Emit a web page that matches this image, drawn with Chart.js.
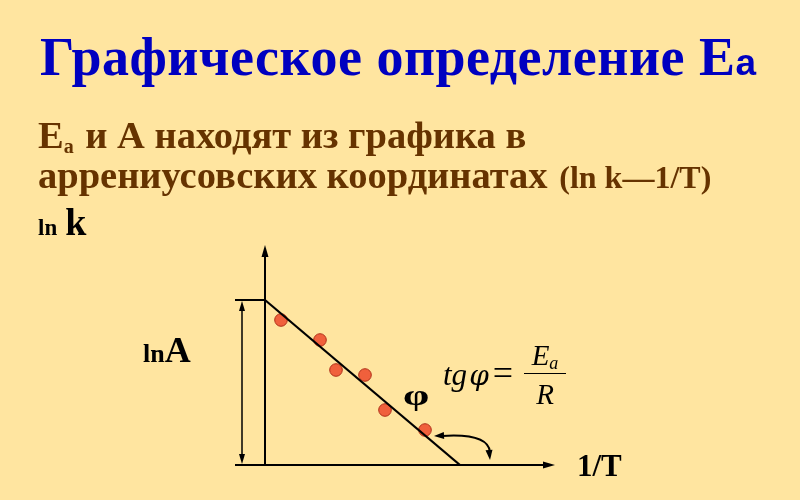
<!DOCTYPE html>
<html>
<head>
<meta charset="utf-8">
<script src="https://cdn.jsdelivr.net/npm/chart.js@4/dist/chart.umd.min.js"></script>
<style>
  body { margin: 0; background: #ffe5a0; }
  #wrap { position: relative; width: 800px; height: 500px; overflow: hidden; background: #ffe5a0; }
  #chart { position: absolute; left: 0; top: 0; }
  .t { position: absolute; white-space: nowrap; font-family: "Liberation Serif", serif; font-weight: bold; }
  #title { left: 40px; top: 26px; font-size: 54px; letter-spacing: 0.5px; color: #0000c0; }
  #title .sub { font-family: "Liberation Sans", sans-serif; font-size: 37px; letter-spacing: 0; }
  .body { color: #663300; font-size: 38.5px; }
  #l1 { left: 38px; top: 113px; }
  #l1 .sub { font-size: 20px; vertical-align: -5px; margin-right: 2px; line-height: 0; }
  #l2 { left: 38px; top: 153px; }
  .small { font-size: 32px; margin-left: 2px; }
  .blk { color: #000; }
  #lnk { left: 38px; top: 200px; }
  #lnA { left: 143px; top: 329px; }
  #phi { left: 403px; top: 379px; font-size: 29px; transform-origin: 0 0; transform: scaleX(1.45); }
  #oneT { left: 577px; top: 448px; font-size: 31px; }
  #formula { left: 443px; top: 357px; font-weight: normal; font-style: italic; font-size: 31px; }
  #formula .phi { font-family: "DejaVu Serif", serif; font-size: 28px; margin-left: 2px; }
  #formula .eq { font-style: normal; font-size: 36px; margin-left: 4px; line-height: 0; }
  #frac { position: absolute; left: 524px; top: 338px; width: 42px; text-align: center; font-family: "Liberation Serif", serif; font-style: italic; font-size: 29px; }
  #frac .num { border-bottom: 1.5px solid #000; line-height: 35px; height: 35px; }
  #frac .num span { font-size: 18px; vertical-align: -4px; line-height: 0; }
  #frac .den { line-height: 40px; }
</style>
</head>
<body>
<div id="wrap">
  <canvas id="chart" width="800" height="500"></canvas>
  <div class="t" id="title">Графическое определение E<span class="sub">a</span></div>
  <div class="t body" id="l1">E<span class="sub">a</span> и А находят из графика в</div>
  <div class="t body" id="l2">аррениусовских координатах <span class="small">(ln k—1/T)</span></div>
  <div class="t blk" id="lnk"><span style="font-size:23px">ln</span> <span style="font-size:38px;margin-left:4px">k</span></div>
  <div class="t blk" id="lnA"><span style="font-size:26px">ln</span><span style="font-size:36px">A</span></div>
  <div class="t blk" id="phi">φ</div>
  <div class="t blk" id="formula">tg<span class="phi">φ</span><span class="eq">=</span></div>
  <div id="frac"><div class="num">E<span>a</span></div><div class="den">R</div></div>
  <div class="t blk" id="oneT">1/T</div>
</div>
<script>
// experimental points (1/T, ln k) and the fitted straight line
const pointsX = [0.32, 1.1, 1.42, 2.0, 2.4, 3.2];
const pointsY = [2.9, 2.5, 1.9, 1.8, 1.1, 0.7];
const lineX = [0, 3.9];
const lineY = [3.3, 0];

const axesPlugin = {
  id: 'axes',
  afterDatasetsDraw(chart) {
    const ctx = chart.ctx;
    const xs = chart.scales.x, ys = chart.scales.y;
    const x0 = xs.getPixelForValue(0), y0 = ys.getPixelForValue(0);
    const yTop = ys.getPixelForValue(ys.max);
    const xLeft = xs.getPixelForValue(xs.min), xRight = xs.getPixelForValue(xs.max);
    const yA = ys.getPixelForValue(lineY[0]);
    const xEnd = xs.getPixelForValue(lineX[1]);
    ctx.save();
    ctx.strokeStyle = '#000';
    ctx.fillStyle = '#000';
    ctx.lineWidth = 2;
    ctx.beginPath();
    ctx.moveTo(x0, y0); ctx.lineTo(x0, yTop + 4);
    ctx.moveTo(xLeft, y0); ctx.lineTo(xRight - 4, y0);
    ctx.moveTo(xLeft, yA); ctx.lineTo(x0, yA);
    ctx.stroke();
    // arrow heads
    function head(x, y, dx, dy, len, w) {
      ctx.beginPath();
      ctx.moveTo(x, y);
      ctx.lineTo(x - dx * len - dy * w, y - dy * len + dx * w);
      ctx.lineTo(x - dx * len + dy * w, y - dy * len - dx * w);
      ctx.closePath();
      ctx.fill();
    }
    head(x0, yTop, 0, -1, 12, 3.5);
    head(xRight, y0, 1, 0, 12, 3.5);
    // lnA dimension arrow
    const xd = xLeft + 7;
    ctx.lineWidth = 1.5;
    ctx.beginPath();
    ctx.moveTo(xd, yA + 8); ctx.lineTo(xd, y0 - 8);
    ctx.stroke();
    head(xd, yA + 1, 0, -1, 10, 3);
    head(xd, y0 - 1, 0, 1, 10, 3);
    // angle arc
    const ax = xEnd + 30, ay = y0 - 5;
    const bx = xs.getPixelForValue(3.38), by = ys.getPixelForValue(0.58);
    ctx.lineWidth = 2;
    ctx.beginPath();
    ctx.moveTo(bx + 8, by);
    ctx.quadraticCurveTo(ax - 2, by - 3, ax, ay - 8);
    ctx.stroke();
    head(bx, by, -1, 0.05, 10, 3.5);
    head(ax, ay, 0.1, 1, 10, 3.5);
    ctx.restore();
  }
};

new Chart(document.getElementById('chart'), {
  type: 'scatter',
  data: {
    datasets: [
      {
        type: 'line',
        data: lineX.map((x, i) => ({ x, y: lineY[i] })),
        borderColor: '#000',
        borderWidth: 2.2,
        pointRadius: 0,
        fill: false
      },
      {
        data: pointsX.map((x, i) => ({ x, y: pointsY[i] })),
        backgroundColor: '#f0603c',
        borderColor: '#b0301a',
        borderWidth: 1,
        pointRadius: 6.3
      }
    ]
  },
  options: {
    responsive: false,
    animation: false,
    layout: { padding: { left: 235, right: 245, top: 245, bottom: 35 } },
    scales: {
      x: { type: 'linear', min: -0.6, max: 5.8, display: false },
      y: { type: 'linear', min: 0, max: 4.4, display: false }
    },
    plugins: { legend: { display: false }, tooltip: { enabled: false } }
  },
  plugins: [axesPlugin]
});
</script>
</body>
</html>
